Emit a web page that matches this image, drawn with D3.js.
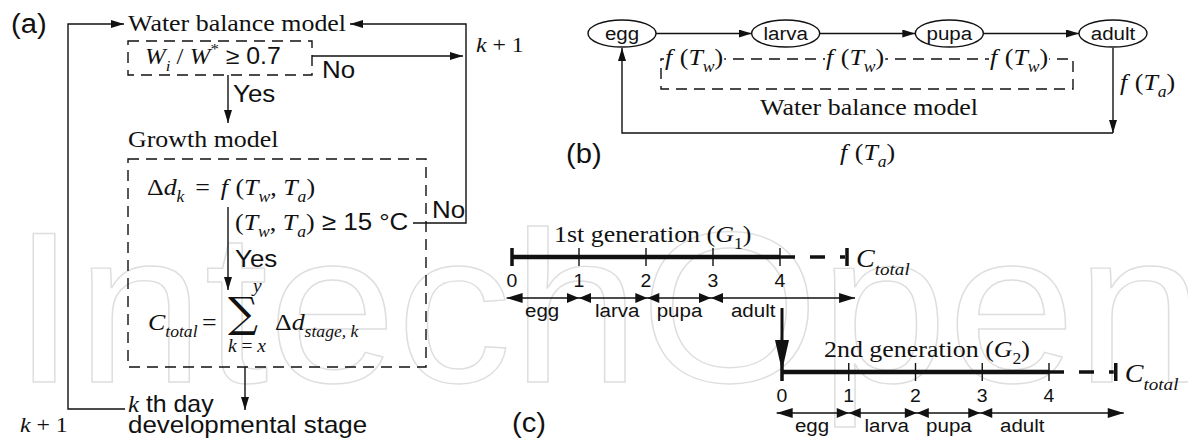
<!DOCTYPE html>
<html>
<head>
<meta charset="utf-8">
<script src="https://d3js.org/d3.v7.min.js"></script>
<style>
body { margin: 0; background: #fff; }
svg { display: block; }
.serif { font-family: "Liberation Serif", "Times New Roman", serif; }
.sans { font-family: "Liberation Sans", Arial, sans-serif; }
.ln { fill: none; stroke: #111; stroke-width: 1.4px; }
.dash { fill: none; stroke: #111; stroke-width: 1.4px; stroke-dasharray: 11,7; }
</style>
</head>
<body>
<svg id="fig" width="1188" height="439"></svg>
<script>
// stages and day ticks of the life cycle
const stages = ["egg", "larva", "pupa", "adult"];
const dayTicks = [0, 1, 2, 3, 4];
const stageBounds = [-0.08, 1, 2.02, 2.97, 5.12];
const stageLabelDay = [0.45, 1.57, 2.5, 3.6];
const cTotalDay = 5;
const generations = ["1st generation", "2nd generation"];
const genIndex = ["1", "2"];
const flowTitles = ["Water balance model", "Growth model"];
const panelTags = ["(a)", "(b)", "(c)"];

const svg = d3.select("#fig");
const lineGen = d3.line();
const SX = 1.08; // the figure's lettering is slightly wide

// arrow heads
const defs = svg.append("defs");
defs.append("marker").attr("id", "arr")
  .attr("markerUnits", "userSpaceOnUse")
  .attr("markerWidth", 13).attr("markerHeight", 8)
  .attr("refX", 13).attr("refY", 4).attr("orient", "auto")
  .append("path").attr("d", "M0,0 L13,4 L0,8 Z").attr("fill", "#111");

// faint watermark
svg.append("text")
  .attr("x", 12).attr("y", 382)
  .attr("class", "sans")
  .attr("textLength", 1192).attr("lengthAdjust", "spacingAndGlyphs")
  .style("font-size", "216px")
  .style("fill", "none").style("stroke", "#dedede").style("stroke-width", 1.4)
  .text("IntechOpen");

function path(pts, cls, arrow) {
  const p = svg.append("path").attr("d", lineGen(pts)).attr("class", cls || "ln");
  if (arrow) p.attr("marker-end", "url(#arr)");
  return p;
}

// text with italic / sub / sup pieces
function rich(x, y, parts, size, cls, anchor) {
  const t = svg.append("text")
    .attr("transform", `translate(${x},${y}) scale(${SX},1)`)
    .attr("class", cls || "serif").style("font-size", size + "px")
    .attr("text-anchor", anchor || "start").style("fill", "#111");
  let shift = 0;
  parts.forEach(p => {
    const s = t.append("tspan").text(p.t);
    const target = p.sub ? size * 0.3 : p.sup ? -size * 0.42 : 0;
    if (target !== shift) { s.attr("dy", target - shift); shift = target; }
    if (p.sub || p.sup) s.style("font-size", (size * 0.68) + "px");
    if (p.it) s.style("font-style", "italic");
    if (p.sans) s.attr("class", "sans");
    if (p.dx) s.attr("dx", p.dx);
  });
  return t;
}
function plain(x, y, str, size, cls, anchor) {
  return rich(x, y, [{t: str}], size, cls, anchor);
}

// ---------- (a) flow chart ----------
plain(11, 33, panelTags[0], 27, "sans");
plain(128, 31, flowTitles[0], 24);
rich(476, 52, [{t: "k", it: true}, {t: " + 1"}], 22);

path([[125, 409], [68, 409], [68, 24], [124, 24]], "ln", true);
path([[413, 223], [466, 223], [466, 24], [350, 24]], "ln", true);

svg.append("rect").attr("x", 128).attr("y", 41).attr("width", 184).attr("height", 34).attr("class", "dash");
path([[312, 56], [463, 56]], "ln", true);
rich(145, 64, [{t: "W", it: true}, {t: "i", it: true, sub: true}, {t: " / "}, {t: "W", it: true},
  {t: "*", sup: true}, {t: " ≥ 0.7", sans: true}], 23);
plain(322, 78, "No", 24, "sans");

path([[228, 75], [228, 123]], "ln", true);
plain(233, 102, "Yes", 24, "sans");

plain(128, 147, flowTitles[1], 24);
svg.append("rect").attr("x", 128).attr("y", 159).attr("width", 298).attr("height", 208).attr("class", "dash");

rich(147, 195, [{t: "Δ"}, {t: "d", it: true}, {t: "k", it: true, sub: true}, {t: " = ", dx: 4},
  {t: "f", it: true, dx: 4}, {t: " (", dx: 1}, {t: "T", it: true}, {t: "w", it: true, sub: true}, {t: ", "},
  {t: "T", it: true}, {t: "a", it: true, sub: true}, {t: ")"}], 24);

path([[228, 207], [228, 290]], "ln", true);
rich(235, 230, [{t: "("}, {t: "T", it: true}, {t: "w", it: true, sub: true}, {t: ", "},
  {t: "T", it: true}, {t: "a", it: true, sub: true}, {t: ")"}, {t: " ≥ 15 °C", sans: true}], 24);
plain(432, 218, "No", 24, "sans");
plain(235, 267, "Yes", 24, "sans");

rich(148, 330, [{t: "C", it: true}, {t: "total", it: true, sub: true}], 24);
plain(202, 330, "=", 24);
svg.append("text").attr("x", 243).attr("y", 327).attr("text-anchor", "middle")
  .style("font-family", "'DejaVu Serif', 'Liberation Serif', serif").style("font-size", "42px")
  .style("fill", "#111").text("∑");
rich(253, 292, [{t: "y", it: true}], 18);
rich(247, 352, [{t: "k", it: true}, {t: " = "}, {t: "x", it: true}], 18, "serif", "middle");
rich(275, 330, [{t: "Δ"}, {t: "d", it: true}, {t: "stage, k", it: true, sub: true}], 24);

path([[245, 367], [245, 410]], "ln", true);
rich(128, 412, [{t: "k", it: true}, {t: " th day", sans: true}], 23);
plain(128, 433, "developmental stage", 24, "sans");
rich(20, 432, [{t: "k", it: true}, {t: " + 1"}], 22);

// ---------- (b) life cycle ----------
const node = d3.scalePoint().domain(stages).range([622, 1113]);
const rx = 34, ry = 13.5, ny = 33.5;
stages.forEach((s, i) => {
  svg.append("ellipse").attr("cx", node(s)).attr("cy", ny).attr("rx", rx).attr("ry", ry)
    .attr("class", "ln").style("fill", "#fff");
  plain(node(s), ny + 6.5, s, 19, "sans", "middle");
  if (i < stages.length - 1) path([[node(s) + rx, ny], [node(stages[i + 1]) - rx, ny]], "ln", true);
});
svg.append("rect").attr("x", 661).attr("y", 59).attr("width", 412).attr("height", 30).attr("class", "dash");
[665, 826, 990].forEach(x => {
  const t = rich(x, 65, [{t: "f", it: true}, {t: " (", dx: 1}, {t: "T", it: true},
    {t: "w", it: true, sub: true}, {t: ")"}], 24);
  const b = t.node().getBBox();
  svg.insert("rect", () => t.node()).attr("x", x + b.x * SX - 1).attr("y", 55)
    .attr("width", b.width * SX + 2).attr("height", 8).style("fill", "#fff");
});
plain(760, 115, "Water balance model", 24);
path([[node("adult"), 48], [node("adult"), 133]], "ln", true);
path([[node("adult"), 133], [node("egg"), 133], [node("egg"), 48]], "ln", true);
rich(1120, 90, [{t: "f", it: true}, {t: " (", dx: 1}, {t: "T", it: true}, {t: "a", it: true, sub: true}, {t: ")"}], 24);
rich(840, 160, [{t: "f", it: true}, {t: " (", dx: 1}, {t: "T", it: true}, {t: "a", it: true, sub: true}, {t: ")"}], 24);
plain(566, 163, panelTags[1], 27, "sans");

// ---------- (c) generations ----------
const dayX = [
  d3.scaleLinear().domain([0, 4]).range([512, 780]),
  d3.scaleLinear().domain([0, 4]).range([782, 1049])
];
const lineY = [257, 372];

function tri(tipX, y, dir, len, h) {
  svg.append("path")
    .attr("d", lineGen([[tipX, y], [tipX - dir * len, y - h / 2], [tipX - dir * len, y + h / 2]]) + "Z")
    .style("fill", "#111");
}

generations.forEach((gname, g) => {
  const x = dayX[g], y0 = lineY[g];
  rich(x(0) + 42, y0 - 15, [{t: gname + " ("}, {t: "G", it: true}, {t: genIndex[g], sub: true}, {t: ")"}], 24);
  svg.append("line").attr("x1", x(0)).attr("x2", x(4)).attr("y1", y0).attr("y2", y0)
    .style("stroke", "#111").style("stroke-width", 4.5);
  svg.append("line").attr("x1", x(4)).attr("x2", x(cTotalDay) - 2).attr("y1", y0).attr("y2", y0)
    .style("stroke", "#111").style("stroke-width", 3.5).style("stroke-dasharray", "15,15");
  dayTicks.forEach(d => {
    svg.append("line").attr("x1", x(d)).attr("x2", x(d)).attr("y1", y0 - 9).attr("y2", y0 + 9)
      .style("stroke", "#111").style("stroke-width", d === 0 ? 3.5 : 1.4);
    plain(x(d), y0 + 30, String(d), 18, "sans", "middle");
  });
  svg.append("line").attr("x1", x(cTotalDay)).attr("x2", x(cTotalDay)).attr("y1", y0 - 9).attr("y2", y0 + 9)
    .style("stroke", "#111").style("stroke-width", 3.5);
  rich(x(cTotalDay) + 9, y0 + 10, [{t: "C", it: true}, {t: "total", it: true, sub: true}], 26);

  const ay = y0 + 41;
  svg.append("line").attr("x1", x(stageBounds[0])).attr("x2", x(stageBounds[4])).attr("y1", ay).attr("y2", ay)
    .style("stroke", "#111").style("stroke-width", 1.4);
  tri(x(stageBounds[0]), ay, -1, 16, 10);
  tri(x(stageBounds[4]), ay, 1, 16, 10);
  stageBounds.slice(1, 4).forEach(b => {
    tri(x(b), ay, 1, 12, 10);
    tri(x(b), ay, -1, 12, 10);
  });
  stages.forEach((s, i) => plain(x(stageLabelDay[i]), y0 + 60, s, 19, "sans", "middle"));
});

// hand-over arrow from 1st generation adult to 2nd generation
const hx = dayX[1](0);
svg.append("line").attr("x1", hx).attr("x2", hx).attr("y1", 308).attr("y2", 345)
  .style("stroke", "#111").style("stroke-width", 3);
svg.append("path").attr("d", lineGen([[hx - 7, 340], [hx + 7, 340], [hx, lineY[1] - 1]]) + "Z").style("fill", "#111");

plain(512, 432, panelTags[2], 27, "sans");
</script>
</body>
</html>
